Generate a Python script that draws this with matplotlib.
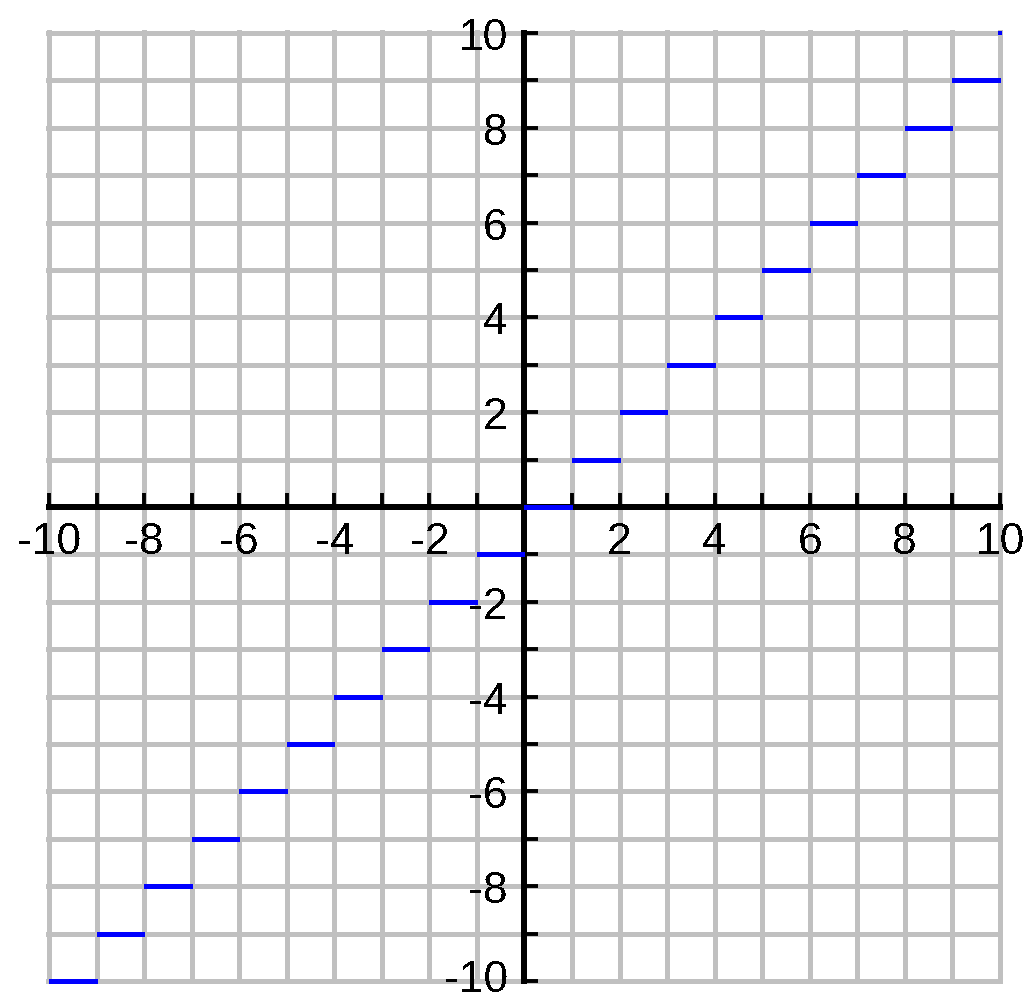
import matplotlib
matplotlib.use("Agg")
import matplotlib.pyplot as plt
from matplotlib.transforms import ScaledTranslation

# floor(x) steps: each level y=n held from x=n to x=n+1
step_start = [-10, -9, -8, -7, -6, -5, -4, -3, -2, -1, 0, 1, 2, 3, 4, 5, 6, 7, 8, 9]
step_end = [-9, -8, -7, -6, -5, -4, -3, -2, -1, 0, 1, 2, 3, 4, 5, 6, 7, 8, 9, 10]
step_level = [-10, -9, -8, -7, -6, -5, -4, -3, -2, -1, 0, 1, 2, 3, 4, 5, 6, 7, 8, 9]
end_x = [10]
end_y = [10]

label_ticks = [-10, -8, -6, -4, -2, 2, 4, 6, 8, 10]
label_text = ["-10", "-8", "-6", "-4", "-2", "2", "4", "6", "8", "10"]
unit_ticks = [-10, -9, -8, -7, -6, -5, -4, -3, -2, -1, 0, 1, 2, 3, 4, 5, 6, 7, 8, 9, 10]

plt.rcParams['font.family'] = ['Liberation Sans Narrow', 'Liberation Sans', 'DejaVu Sans']
plt.rcParams['text.antialiased'] = False
plt.rcParams['lines.antialiased'] = False

fig = plt.figure(figsize=(10.27, 10.03), dpi=100)
ax = fig.add_axes([0.0449, 0.0181, 0.9316, 0.9509])

pad = 0.06
ax.set_xlim(-10 - pad, 10 + pad)
ax.set_ylim(-10 - pad, 10 + pad)

# grid
for v in unit_ticks:
    ax.axvline(v, color='#c0c0c0', linewidth=2.4, zorder=1, antialiased=False)
    ax.axhline(v, color='#c0c0c0', linewidth=2.4, zorder=1, antialiased=False)

# axes through origin
for s in ['top', 'right']:
    ax.spines[s].set_visible(False)
ax.spines['left'].set_position(('data', 0))
ax.spines['bottom'].set_position(('data', 0))
ax.spines['left'].set_bounds(-10, 10)
ax.spines['bottom'].set_bounds(-10, 10)
for s in ['left', 'bottom']:
    ax.spines[s].set_linewidth(3.0)
    ax.spines[s].set_color('black')
    ax.spines[s].set_zorder(2)
    ax.spines[s].set_antialiased(False)

ax.set_xticks(label_ticks)
ax.set_xticklabels(label_text)
ax.set_yticks(label_ticks)
ax.set_yticklabels(label_text)
ax.set_xticks(unit_ticks, minor=True)
ax.set_yticks(unit_ticks, minor=True)
ax.tick_params(which='both', direction='in', length=10, width=2.8, color='black')
ax.tick_params(axis='x', which='major', labelsize=32, pad=10)
ax.tick_params(axis='y', which='major', labelsize=32, pad=12)

# nudge bottom y label up a little so it stays on the canvas
lab = ax.yaxis.get_major_ticks()[0].label1
lab.set_transform(lab.get_transform() + ScaledTranslation(0, 4 / 72, fig.dpi_scale_trans))

ax.hlines(step_level, step_start, step_end, colors='#0000ff', linewidth=2.4, zorder=3,
          antialiased=False)
ax.plot(end_x, end_y, linestyle='none', marker='s', markersize=2.6, color='#0000ff',
        markeredgewidth=0, zorder=3)

fig.savefig("out.png", dpi=100)
